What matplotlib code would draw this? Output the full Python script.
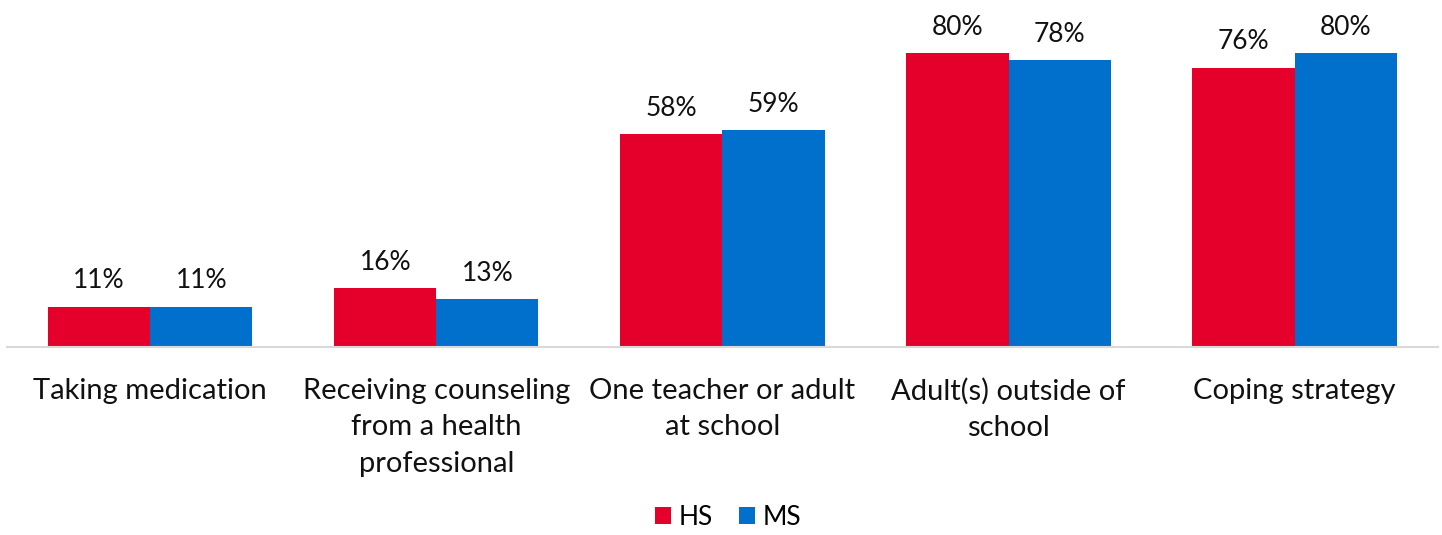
import numpy as np
import matplotlib.pyplot as plt

categories = ['Taking medication', 'Receiving counseling\nfrom a health\nprofessional',
              'One teacher or adult\nat school', 'Adult(s) outside of\nschool', 'Coping strategy']
hs = [11, 16, 58, 80, 76]
ms = [11, 13, 59, 78, 80]

plt.rcParams['font.family'] = ['Lato', 'DejaVu Sans']

fig = plt.figure(figsize=(14.42, 5.35), dpi=100)
ax = fig.add_axes([0.005, 1 - 347 / 535, 0.992, 347 / 535])

x = np.arange(len(categories))
w = 0.357
b1 = ax.bar(x - w / 2, hs, w, color='#e4002b', label='HS')
b2 = ax.bar(x + w / 2, ms, w, color='#0070cc', label='MS')

for bars, vals in ((b1, hs), (b2, ms)):
    for bar, v in zip(bars, vals):
        ax.text(bar.get_x() + bar.get_width() / 2, v + 3.6, f'{v}%',
                ha='center', va='bottom', fontsize=19, color='#111111')

ax.set_xlim(-0.5, 4.5)
ax.set_ylim(0, 94.4)
ax.set_yticks([])
ax.set_xticks(x)
ax.set_xticklabels(categories, fontsize=21, color='#111111', linespacing=1.5)
ax.tick_params(axis='x', length=0, pad=22)
for s in ['top', 'right', 'left']:
    ax.spines[s].set_visible(False)
ax.spines['bottom'].set_color('#d9d9d9')
ax.spines['bottom'].set_linewidth(1.5)

fig.legend(loc='lower center', bbox_to_anchor=(0.505, 0.0), ncol=2, frameon=False,
           fontsize=19, handlelength=0.6, handleheight=0.6, handletextpad=0.3,
           columnspacing=1.0, borderaxespad=0.1, borderpad=0.1)

fig.savefig('out.png', dpi=100)
